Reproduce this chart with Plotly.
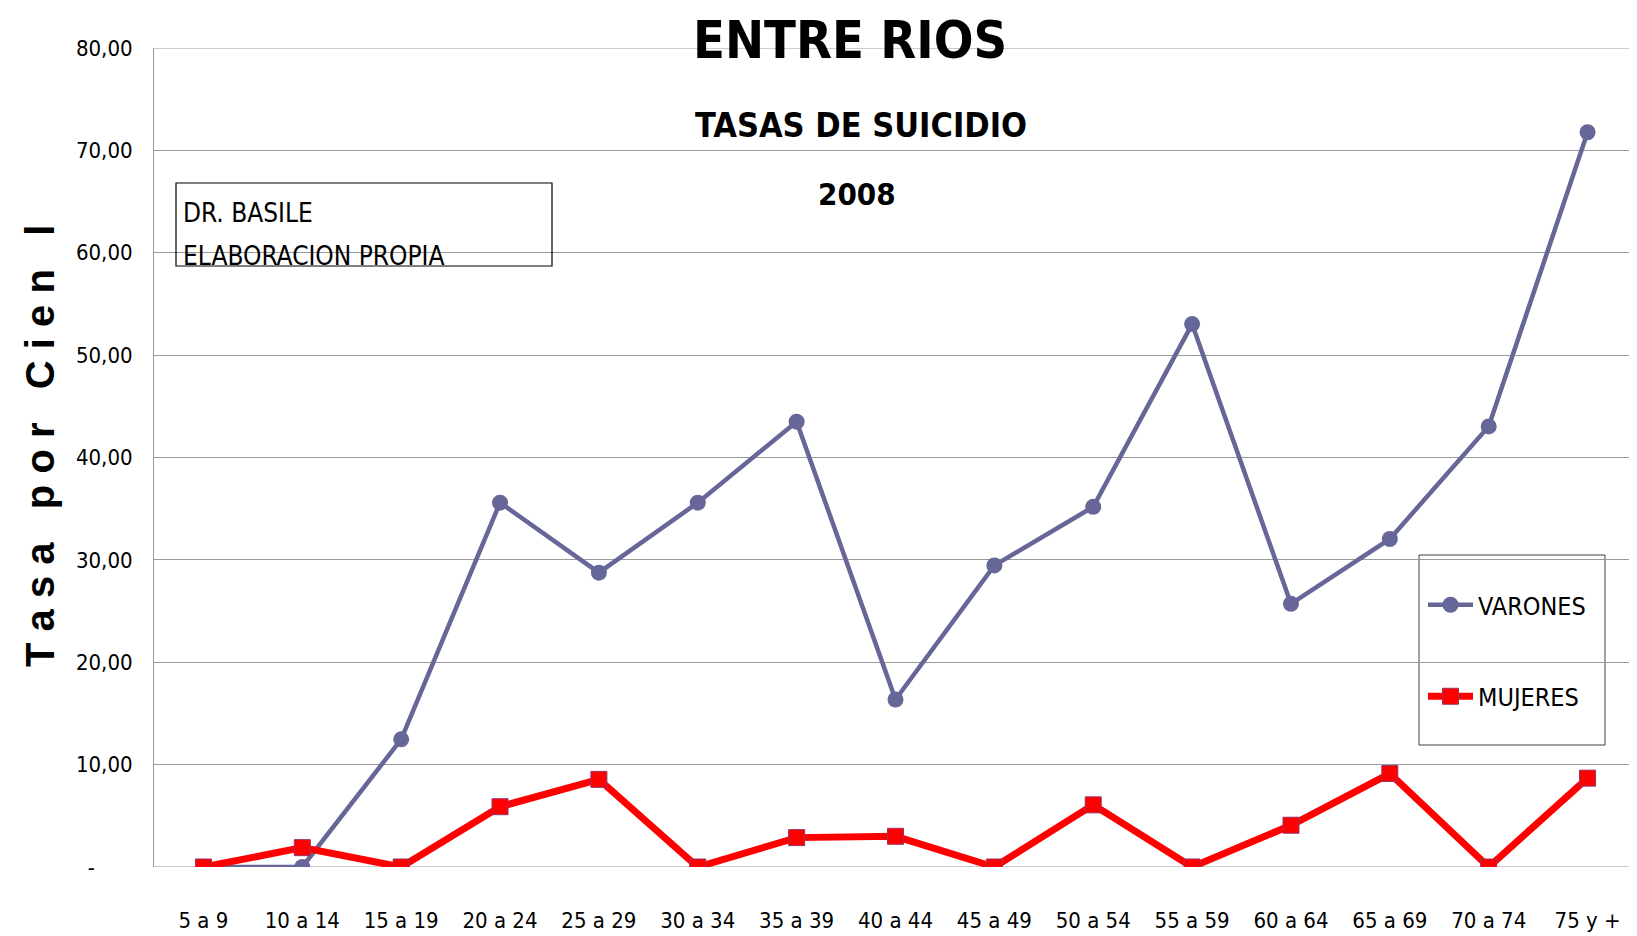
import plotly.graph_objects as go

categories = ["5 a 9", "10 a 14", "15 a 19", "20 a 24", "25 a 29", "30 a 34", "35 a 39",
              "40 a 44", "45 a 49", "50 a 54", "55 a 59", "60 a 64", "65 a 69", "70 a 74", "75 y +"]
varones = [0.0, 0.0, 12.47, 35.59, 28.75, 35.59, 43.50, 16.36, 29.46, 35.18, 53.03, 25.71, 32.04, 43.04, 71.77]
mujeres = [0.0, 1.89, 0.0, 5.89, 8.56, 0.0, 2.87, 3.00, 0.0, 6.07, 0.0, 4.08, 9.13, 0.0, 8.68]
y_tickvals = [0, 10, 20, 30, 40, 50, 60, 70, 80]
y_ticktext = ["-\u00a0\u00a0\u00a0\u00a0\u00a0\u00a0", "10,00", "20,00", "30,00", "40,00", "50,00", "60,00", "70,00", "80,00"]

NARROW = "Liberation Sans Narrow, DejaVu Sans Condensed, Arial Narrow, sans-serif"

# the page body has an 8px margin, so the figure is placed at (8, 8) in the window
OFF = 8
W, H = 1637 - OFF, 936 - OFF
PL, PT, PB, PR = 154, 48, 867, 1637          # plot area in window pixels
L, T, R, B = PL - OFF, PT - OFF, 0, (936 - PB)
pw, ph = PR - PL, PB - PT


def px_x(x):
    return (x - PL) / pw


def px_y(y):
    return (PB - y) / ph


fig = go.Figure()
fig.add_trace(go.Scatter(
    x=categories, y=varones, name="VARONES", mode="lines+markers",
    line=dict(color="#666699", width=4.5),
    marker=dict(symbol="circle", size=16, color="#666699"),
    legendgroup="v",
))
fig.add_trace(go.Scatter(
    x=categories, y=mujeres, name="MUJERES", mode="lines+markers",
    line=dict(color="#FF0000", width=7),
    marker=dict(symbol="square", size=16, color="#FF0000", line=dict(color="#993366", width=1)),
    legendgroup="m",
))

fig.update_layout(
    template="none",
    width=W, height=H,
    margin=dict(l=L, r=R, t=T, b=B, pad=0, autoexpand=False),
    paper_bgcolor="white", plot_bgcolor="white",
    font=dict(family=NARROW, color="black"),
    showlegend=True,
    legend=dict(
        x=px_x(1423), y=px_y(582), xanchor="left", yanchor="top",
        bgcolor="rgba(0,0,0,0)", borderwidth=0,
        font=dict(family=NARROW, size=25, color="black"),
        tracegroupgap=56, itemwidth=45,
    ),
    xaxis=dict(
        type="category", range=[-0.5, len(categories) - 0.5], automargin=False,
        showgrid=False, showline=False, zeroline=False, ticks="",
        tickfont=dict(family=NARROW, size=22, color="black"),
        ticklabelstandoff=38,
    ),
    yaxis=dict(
        range=[0, 80], tickvals=y_tickvals, ticktext=y_ticktext, automargin=False,
        showgrid=True, gridcolor="#9a9a9a", gridwidth=1,
        showline=True, linecolor="#9a9a9a", linewidth=1,
        zeroline=False, ticks="",
        tickfont=dict(family=NARROW, size=22, color="black"),
        ticklabelstandoff=16,
    ),
)

fig.add_hline(y=80, line=dict(color="#9a9a9a", width=1), layer="below")
fig.add_hline(y=0, line=dict(color="#9a9a9a", width=1), layer="below")

# legend frame
fig.add_shape(type="rect", xref="paper", yref="paper",
              x0=px_x(1419), x1=px_x(1605), y0=px_y(745), y1=px_y(555),
              line=dict(color="#404040", width=1), fillcolor="white", layer="below")

# note frame
fig.add_shape(type="rect", xref="paper", yref="paper",
              x0=px_x(176), x1=px_x(552), y0=px_y(266), y1=px_y(183),
              line=dict(color="black", width=1.2), fillcolor="rgba(0,0,0,0)")

annos = [
    dict(text="<b>ENTRE RIOS</b>", x=px_x(850), y=px_y(40), size=52),
    dict(text="<b>TASAS DE SUICIDIO</b>", x=px_x(861), y=px_y(125), size=34),
    dict(text="<b>2008</b>", x=px_x(857), y=px_y(194), size=31),
]
for a in annos:
    fig.add_annotation(text=a["text"], x=a["x"], y=a["y"], xref="paper", yref="paper",
                       xanchor="center", yanchor="middle", showarrow=False,
                       font=dict(family=NARROW, size=a["size"], color="black"))

fig.add_annotation(text="DR. BASILE", x=px_x(181), y=px_y(213), xref="paper", yref="paper",
                   xanchor="left", yanchor="middle", showarrow=False,
                   font=dict(family=NARROW, size=26, color="black"))
fig.add_annotation(text="ELABORACION PROPIA", x=px_x(181), y=px_y(256), xref="paper", yref="paper",
                   xanchor="left", yanchor="middle", showarrow=False,
                   font=dict(family=NARROW, size=26, color="black"))

fig.add_annotation(text="<b>T a s a   p o r   C i e n   l</b>", x=px_x(40), y=px_y(446),
                   xref="paper", yref="paper", xanchor="center", yanchor="middle",
                   textangle=-90, showarrow=False,
                   font=dict(family="Liberation Sans, DejaVu Sans, sans-serif", size=40, color="black"))

fig.write_html("out.html")
